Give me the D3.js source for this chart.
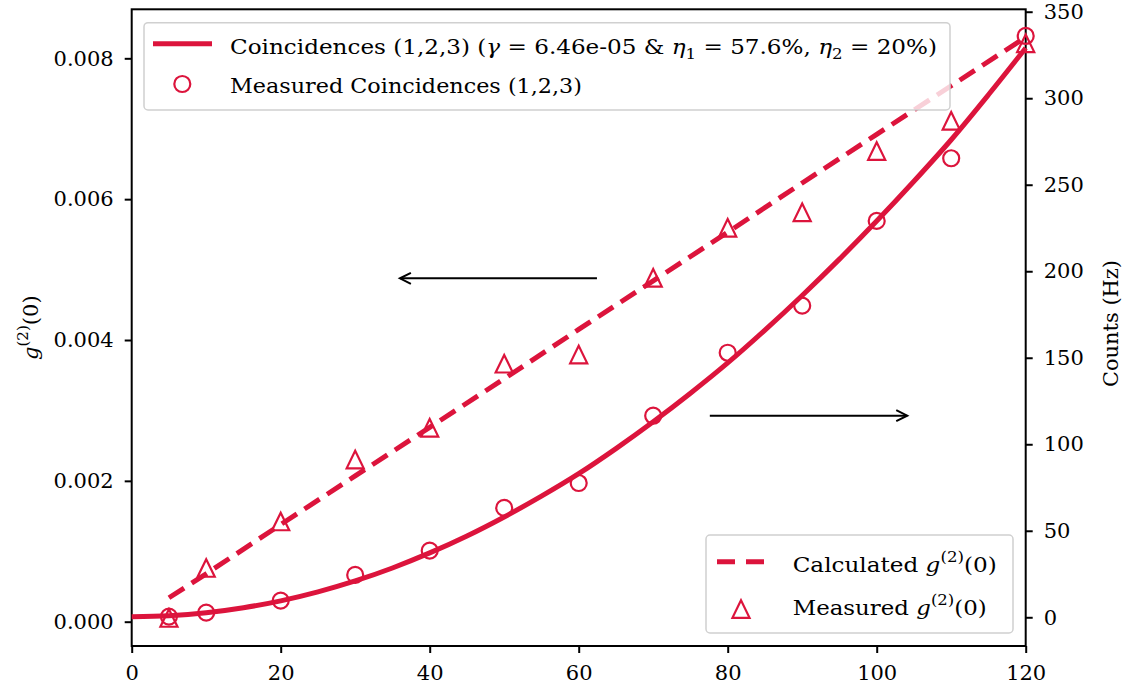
<!DOCTYPE html>
<html>
<head>
<meta charset="utf-8">
<script src="https://cdnjs.cloudflare.com/ajax/libs/d3/7.8.5/d3.min.js"></script>
<style>
  body { margin: 0; background: #fff; }
  svg text { font-family: "DejaVu Serif", "Liberation Serif", serif; fill: #000; }
</style>
</head>
<body>
<svg id="chart" width="1128" height="688"></svg>
<script>
// measured points (x = pump power axis)
var xMeas = [5, 10, 20, 30, 40, 50, 60, 70, 80, 90, 100, 110, 120];
var countsMeas = [0.4, 2.7, 9.6, 24.5, 38.5, 63.2, 77.6, 116.5, 152.9, 180.1, 229.1, 265.3, 336];
var g2Meas = [0.00005, 0.00076, 0.00142, 0.00230, 0.00275, 0.00366, 0.00379, 0.00488, 0.00559, 0.00581, 0.00668, 0.00711, 0.00821];

// calculated g2 (dashed)
var xCalc = [5, 10, 20, 30, 40, 50, 60, 70, 80, 90, 100, 110, 120];
var g2Calc = [0.00034, 0.00068, 0.00138, 0.00207, 0.00276, 0.00345, 0.00415, 0.00484, 0.00553, 0.00623, 0.00692, 0.00761, 0.00830];

// fitted coincidences (solid)
var xFit = [0, 5, 10, 15, 20, 25, 30, 35, 40, 45, 50, 55, 60, 65, 70, 75, 80, 85, 90, 95, 100, 105, 110, 115, 120];
var countsFit = [0.3, 0.9, 2.6, 5.5, 9.5, 14.7, 21, 28.5, 37.2, 47, 58, 70, 83, 97.5, 113, 129.5, 147, 166, 186, 207, 229, 252, 276, 302, 329];

var xTicks = [0, 20, 40, 60, 80, 100, 120];
var leftTicks = [0, 0.002, 0.004, 0.006, 0.008];
var rightTicks = [0, 50, 100, 150, 200, 250, 300, 350];

var red = '#dc143c';
var svg = d3.select('#chart');

var x = d3.scaleLinear().domain([0, 120]).range([131.7, 1025.7]);
var yL = d3.scaleLinear().domain([-0.000345, 0.008696]).range([646, 9.3]);
var yR = d3.scaleLinear().domain([-16.6, 351.4]).range([646, 9.3]);

var fs = 21;
var ff = '"DejaVu Serif", "Liberation Serif", serif';

// axes
var xAxis = svg.append('g').attr('transform', 'translate(0,646)')
  .call(d3.axisBottom(x).tickValues(xTicks).tickSize(7).tickPadding(7).tickFormat(d3.format('d')));
var lAxis = svg.append('g').attr('transform', 'translate(131.7,0)')
  .call(d3.axisLeft(yL).tickValues(leftTicks).tickSize(7).tickPadding(11).tickFormat(d3.format('.3f')));
var rAxis = svg.append('g').attr('transform', 'translate(1025.7,0)')
  .call(d3.axisRight(yR).tickValues(rightTicks).tickSize(7).tickPadding(11).tickFormat(d3.format('d')));

[xAxis, lAxis, rAxis].forEach(function(a) {
  a.attr('font-family', ff).attr('font-size', fs);
  a.select('.domain').remove();
  a.selectAll('line').attr('stroke', '#000').attr('stroke-width', 2);
  a.selectAll('text').attr('font-size', fs).attr('fill', '#000');
});
xAxis.selectAll('text').attr('dy', '0.95em');

// frame
svg.append('rect').attr('x', 131.7).attr('y', 9.3).attr('width', 1025.7 - 131.7).attr('height', 646 - 9.3)
  .attr('fill', 'none').attr('stroke', '#000').attr('stroke-width', 2);

// left axis series (dashed + triangles)
var dashLine = d3.line().x(function(d, i) { return x(xCalc[i]); }).y(function(d) { return yL(d); });
svg.append('path').datum(g2Calc).attr('d', dashLine)
  .attr('fill', 'none').attr('stroke', red).attr('stroke-width', 5).attr('stroke-dasharray', '18,9');

function tri(cx, cy, r) {
  return 'M' + cx + ',' + (cy - r) + 'L' + (cx - r * 0.95) + ',' + (cy + r * 0.95) + 'L' + (cx + r * 0.95) + ',' + (cy + r * 0.95) + 'Z';
}
svg.append('g').selectAll('path').data(g2Meas).enter().append('path')
  .attr('d', function(d, i) { return tri(x(xMeas[i]), yL(d), 9); })
  .attr('fill', 'none').attr('stroke', red).attr('stroke-width', 2.2);

// legend helpers
function legendBox(g, bx, by, bw, bh) {
  g.append('rect').attr('x', bx).attr('y', by).attr('width', bw).attr('height', bh).attr('rx', 4)
    .attr('fill', '#fff').attr('fill-opacity', 0.8).attr('stroke', '#d0d0d0').attr('stroke-width', 1.5);
}
function g2Label(t, prefix) {
  t.append('tspan').text(prefix);
  t.append('tspan').attr('font-style', 'italic').text('g');
  t.append('tspan').attr('font-size', fs * 0.72).attr('dy', -10).text('(2)');
  t.append('tspan').attr('dy', 10).text('(0)');
}

// legend for left axis
var leg2 = svg.append('g');
legendBox(leg2, 706, 535, 307, 98);
leg2.append('line').attr('x1', 717).attr('x2', 764).attr('y1', 561.7).attr('y2', 561.7)
  .attr('stroke', red).attr('stroke-width', 5).attr('stroke-dasharray', '18,11');
leg2.append('path').attr('d', tri(741, 609.3, 9)).attr('fill', 'none').attr('stroke', red).attr('stroke-width', 2.2);
g2Label(leg2.append('text').attr('x', 792.7).attr('y', 571.5).attr('font-size', fs)
  .attr('textLength', 204).attr('lengthAdjust', 'spacingAndGlyphs'), 'Calculated ');
g2Label(leg2.append('text').attr('x', 792.7).attr('y', 615).attr('font-size', fs)
  .attr('textLength', 194).attr('lengthAdjust', 'spacingAndGlyphs'), 'Measured ');

// right axis series (solid + circles)
var solid = d3.line().curve(d3.curveMonotoneX)
  .x(function(d, i) { return x(xFit[i]); }).y(function(d) { return yR(d); });
svg.append('path').datum(countsFit).attr('d', solid)
  .attr('fill', 'none').attr('stroke', red).attr('stroke-width', 5);
svg.append('g').selectAll('circle').data(countsMeas).enter().append('circle')
  .attr('cx', function(d, i) { return x(xMeas[i]); }).attr('cy', function(d) { return yR(d); })
  .attr('r', 8).attr('fill', 'none').attr('stroke', red).attr('stroke-width', 2.2);

// legend for right axis
var leg1 = svg.append('g');
legendBox(leg1, 144, 22.7, 806, 87.3);
leg1.append('line').attr('x1', 153).attr('x2', 212).attr('y1', 43.7).attr('y2', 43.7)
  .attr('stroke', red).attr('stroke-width', 5);
leg1.append('circle').attr('cx', 182.3).attr('cy', 84).attr('r', 8)
  .attr('fill', 'none').attr('stroke', red).attr('stroke-width', 2.2);
var t1 = leg1.append('text').attr('x', 230).attr('y', 53.5).attr('font-size', fs)
  .attr('textLength', 707).attr('lengthAdjust', 'spacingAndGlyphs');
t1.append('tspan').text('Coincidences (1,2,3) (');
t1.append('tspan').attr('font-style', 'italic').text('γ');
t1.append('tspan').text(' = 6.46e-05 & ');
t1.append('tspan').attr('font-style', 'italic').text('η');
t1.append('tspan').attr('font-size', fs * 0.72).attr('dy', 5).text('1');
t1.append('tspan').attr('dy', -5).text(' = 57.6%, ');
t1.append('tspan').attr('font-style', 'italic').text('η');
t1.append('tspan').attr('font-size', fs * 0.72).attr('dy', 5).text('2');
t1.append('tspan').attr('dy', -5).text(' = 20%)');
leg1.append('text').attr('x', 230).attr('y', 93).attr('font-size', fs)
  .attr('textLength', 352).attr('lengthAdjust', 'spacingAndGlyphs').text('Measured Coincidences (1,2,3)');

// arrows
function arrow(x1, x2, py) {
  var dir = x2 > x1 ? 1 : -1;
  svg.append('line').attr('x1', x1).attr('x2', x2).attr('y1', py).attr('y2', py)
    .attr('stroke', '#000').attr('stroke-width', 2);
  svg.append('path').attr('d', 'M' + (x2 - dir * 11) + ',' + (py - 5.5) + 'L' + x2 + ',' + py + 'L' + (x2 - dir * 11) + ',' + (py + 5.5))
    .attr('fill', 'none').attr('stroke', '#000').attr('stroke-width', 2);
}
arrow(x(62.45), x(36.0), yL(0.004876));
arrow(x(77.6), x(104.1), yR(116.5));

// axis titles
var gl = svg.append('text').attr('transform', 'translate(38,327.7) rotate(-90)')
  .attr('text-anchor', 'middle').attr('font-size', fs);
gl.append('tspan').attr('font-style', 'italic').text('g');
gl.append('tspan').attr('font-size', fs * 0.72).attr('dy', -10).text('(2)');
gl.append('tspan').attr('dy', 10).text('(0)');
svg.append('text').attr('transform', 'translate(1118,323.5) rotate(-90)')
  .attr('text-anchor', 'middle').attr('font-size', fs)
  .attr('textLength', 127).attr('lengthAdjust', 'spacingAndGlyphs').text('Counts (Hz)');
</script>
</body>
</html>
